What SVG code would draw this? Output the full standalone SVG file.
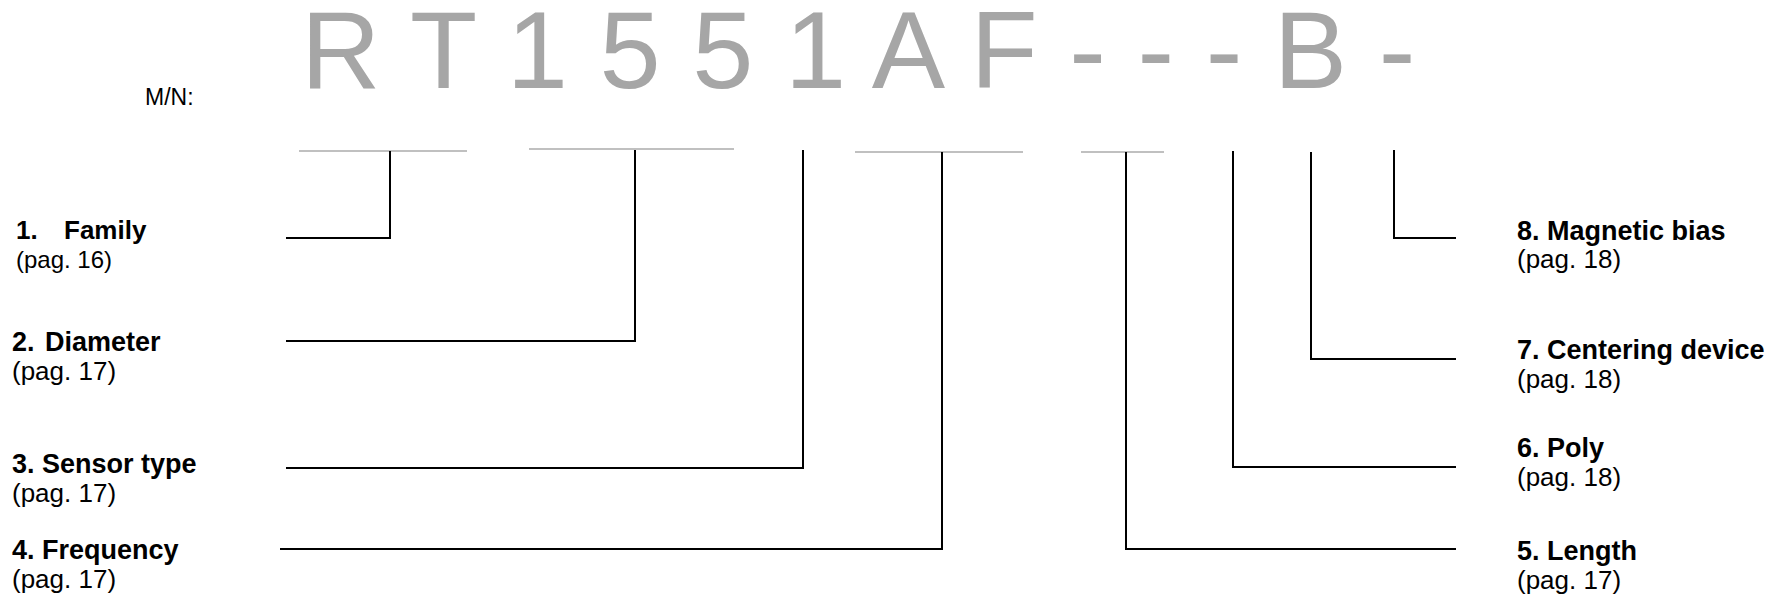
<svg xmlns="http://www.w3.org/2000/svg" width="1775" height="598" viewBox="0 0 1775 598">
  <style>
    .big { font-family: "Liberation Sans", Arial, sans-serif; font-size: 110px; fill: #a6a6a6; word-spacing: 1px; }
    .mn { font-family: "Liberation Sans", Arial, sans-serif; font-size: 23px; fill: #000; }
    .t { font-family: "Liberation Sans", Arial, sans-serif; font-size: 27px; font-weight: bold; fill: #000; }
    .p { font-family: "Liberation Sans", Arial, sans-serif; font-size: 26px; fill: #000; }
    .gray { stroke: #c0c0c0; stroke-width: 2; fill: none; }
    .conn { stroke: #000; stroke-width: 2; fill: none; }
  </style>
  <rect width="1775" height="598" fill="#fff"/>
  <g id="model-number">
    <text class="mn" x="145" y="105">M/N:</text>
    <text class="big" x="301" y="88" xml:space="preserve">R T 1 5 5 1 A F - - - B -</text>
  </g>
  <g id="underlines">
    <line class="gray" x1="299" y1="151" x2="467" y2="151"/>
    <line class="gray" x1="529" y1="149" x2="734" y2="149"/>
    <line class="gray" x1="855" y1="152" x2="1023" y2="152"/>
    <line class="gray" x1="1081" y1="152" x2="1164" y2="152"/>
  </g>
  <g id="connectors">
    <polyline class="conn" points="390,151 390,238 286,238"/>
    <polyline class="conn" points="635,150 635,341 286,341"/>
    <polyline class="conn" points="803,150 803,468 286,468"/>
    <polyline class="conn" points="942,152 942,549 280,549"/>
    <polyline class="conn" points="1126,152 1126,549 1456,549"/>
    <polyline class="conn" points="1233,151 1233,467 1456,467"/>
    <polyline class="conn" points="1311,152 1311,359 1456,359"/>
    <polyline class="conn" points="1394,150 1394,238 1456,238"/>
  </g>
  <g id="node-1">
    <text class="t" x="16" y="239" style="font-size:26px">1.<tspan x="64">Family</tspan></text>
    <text class="p" x="16" y="268" style="font-size:24px">(pag. 16)</text>
  </g>
  <g id="node-2">
    <text class="t" x="12" y="351">2.<tspan x="45">Diameter</tspan></text>
    <text class="p" x="12" y="380">(pag. 17)</text>
  </g>
  <g id="node-3">
    <text class="t" x="12" y="473">3. Sensor type</text>
    <text class="p" x="12" y="502">(pag. 17)</text>
  </g>
  <g id="node-4">
    <text class="t" x="12" y="559">4. Frequency</text>
    <text class="p" x="12" y="588">(pag. 17)</text>
  </g>
  <g id="node-5">
    <text class="t" x="1517" y="560">5. Length</text>
    <text class="p" x="1517" y="589">(pag. 17)</text>
  </g>
  <g id="node-6">
    <text class="t" x="1517" y="457">6. Poly</text>
    <text class="p" x="1517" y="486">(pag. 18)</text>
  </g>
  <g id="node-7">
    <text class="t" x="1517" y="359">7. Centering device</text>
    <text class="p" x="1517" y="388">(pag. 18)</text>
  </g>
  <g id="node-8">
    <text class="t" x="1517" y="240">8. Magnetic bias</text>
    <text class="p" x="1517" y="268">(pag. 18)</text>
  </g>
</svg>
